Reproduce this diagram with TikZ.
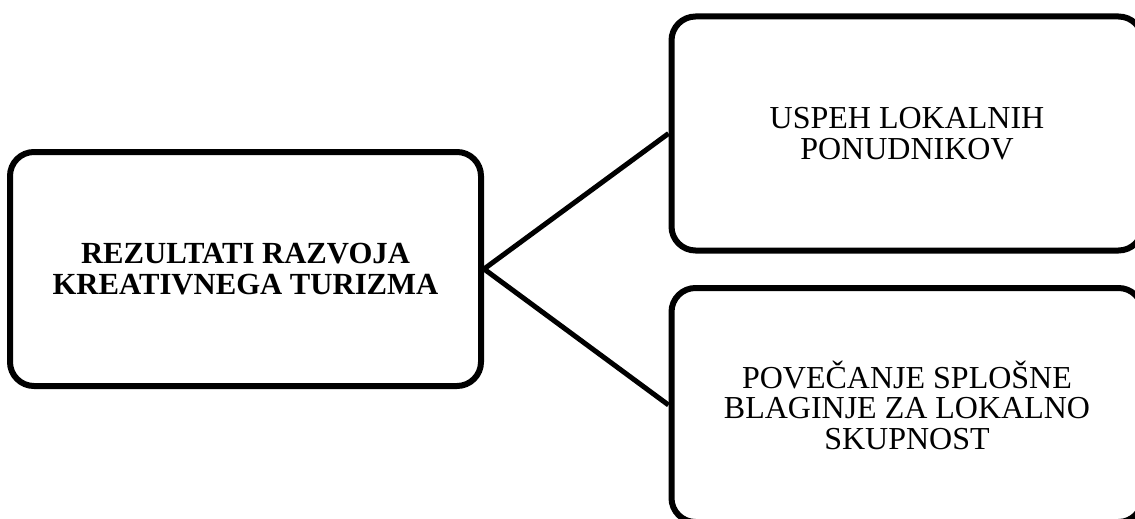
\documentclass[tikz,border=0pt]{standalone}
\usepackage{fontspec}
\setmainfont{Liberation Serif}
\begin{document}
\begin{tikzpicture}[x=1pt,y=-1pt,
  box/.style={draw=black, line width=6pt, rounded corners=24pt, fill=white,
    minimum width=471pt, minimum height=234pt, align=center,
    font=\fontsize{32}{30.5}\selectfont, inner sep=0pt},
  link/.style={draw=black, line width=5pt}]
\useasboundingbox (0,0) rectangle (1135,519);
\clip (0,0) rectangle (1135,519);
\node[box, font=\fontsize{30.7}{31}\selectfont\bfseries] (res) at (245.5,269) {REZULTATI RAZVOJA\\KREATIVNEGA TURIZMA};
\node[box] (usp) at (907,133.5) {USPEH LOKALNIH\\PONUDNIKOV};
\node[box] (pov) at (907,405) {POVEČANJE SPLOŠNE\\BLAGINJE ZA LOKALNO\\SKUPNOST};
\draw[link] (res.east) -- (usp.west);
\draw[link] (res.east) -- (pov.west);
\end{tikzpicture}
\end{document}
